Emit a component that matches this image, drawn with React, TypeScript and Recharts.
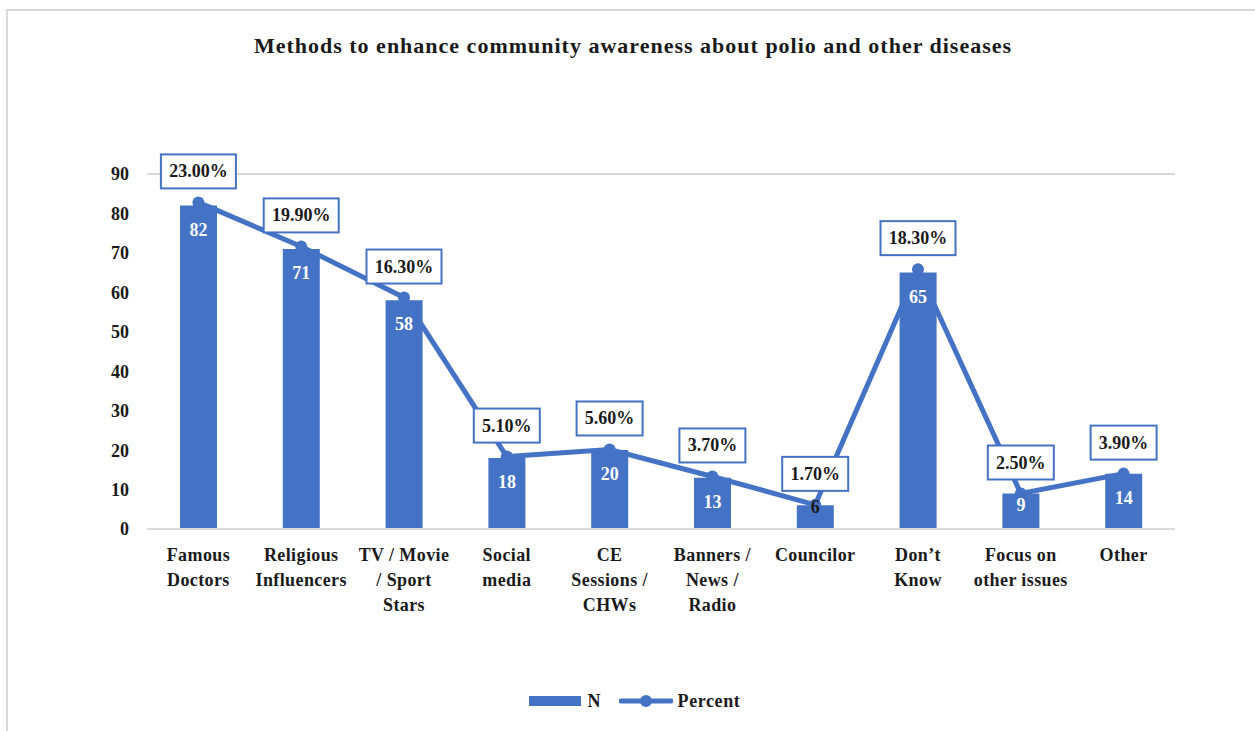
import React from "react"
import {
  Bar,
  CartesianGrid,
  ComposedChart,
  LabelList,
  Legend,
  Line,
  XAxis,
  YAxis,
} from "recharts"

const categories = [
  "Famous\nDoctors",
  "Religious\nInfluencers",
  "TV / Movie\n/ Sport\nStars",
  "Social\nmedia",
  "CE\nSessions /\nCHWs",
  "Banners /\nNews /\nRadio",
  "Councilor",
  "Don’t\nKnow",
  "Focus on\nother issues",
  "Other",
]
const nValues = [82, 71, 58, 18, 20, 13, 6, 65, 9, 14]
const percentValues = [23.0, 19.9, 16.3, 5.1, 5.6, 3.7, 1.7, 18.3, 2.5, 3.9]
const yTicks = [0, 10, 20, 30, 40, 50, 60, 70, 80, 90]

const BLUE = "#4472C4"
const GRID = "#d9d9d9"
const FONT = "'Liberation Serif', 'Times New Roman', serif"

const data = categories.map((name, i) => ({
  name,
  N: nValues[i],
  Percent: percentValues[i],
}))

const CategoryTick = (props: any) => {
  const { x, y, payload } = props
  const lines = String(payload.value).split("\n")
  return (
    <text
      x={x}
      y={y}
      textAnchor="middle"
      fontFamily={FONT}
      fontWeight="bold"
      fontSize={18}
      letterSpacing={0.4}
      fill="#1a1a1a"
    >
      {lines.map((line, i) => (
        <tspan key={i} x={x} dy={i === 0 ? 24 : 25}>
          {line}
        </tspan>
      ))}
    </text>
  )
}

const BarValueLabel = (props: any) => {
  const { x, y, width, height, value } = props
  const bottom = y + height
  const cy = Math.min(y + 24, bottom - 24)
  const small = height < 30
  return (
    <text
      x={x + width / 2}
      y={small ? y + 2 : cy}
      textAnchor="middle"
      dominantBaseline="central"
      fontFamily={FONT}
      fontWeight="bold"
      fontSize={18}
      fill={small ? "#1a1a1a" : "#ffffff"}
    >
      {value}
    </text>
  )
}

const PercentLabel = (props: any) => {
  const { x, y, value } = props
  const text = `${Number(value).toFixed(2)}%`
  const w = text.length * 9 + 21
  const h = 34
  const cy = y - 31
  return (
    <g>
      <rect
        x={x - w / 2}
        y={cy - h / 2}
        width={w}
        height={h}
        fill="#ffffff"
        stroke={BLUE}
        strokeWidth={2}
      />
      <text
        x={x}
        y={cy}
        textAnchor="middle"
        dominantBaseline="central"
        fontFamily={FONT}
        fontWeight="bold"
        fontSize={18}
        fill="#1a1a1a"
      >
        {text}
      </text>
    </g>
  )
}

const LegendContent = () => (
  <div
    style={{
      display: "flex",
      justifyContent: "center",
      alignItems: "center",
      height: 24,
      paddingLeft: 14,
      fontFamily: FONT,
      fontWeight: "bold",
      fontSize: 18,
      color: "#1a1a1a",
    }}
  >
    <svg width={52} height={10} style={{ marginRight: 7 }}>
      <rect x={0} y={0} width={52} height={10} fill={BLUE} />
    </svg>
    <span style={{ marginRight: 18 }}>N</span>
    <svg width={54} height={14} style={{ marginRight: 5 }}>
      <line x1={2} y1={7} x2={52} y2={7} stroke={BLUE} strokeWidth={5} strokeLinecap="round" />
      <circle cx={27} cy={7} r={6} fill={BLUE} />
    </svg>
    <span style={{ letterSpacing: 0.6 }}>Percent</span>
  </div>
)

export default function App() {
  return (
    <div
      style={{
        position: "fixed",
        left: 0,
        top: 0,
        width: 1255,
        height: 731,
        background: "#ffffff",
        overflow: "hidden",
      }}
    >
      <div
        style={{
          position: "absolute",
          left: 6,
          top: 9,
          width: 1300,
          height: 800,
          borderTop: `2px solid ${GRID}`,
          borderLeft: `2px solid ${GRID}`,
        }}
      />
      <div
        style={{
          position: "absolute",
          left: 0,
          top: 33,
          width: 1266,
          textAlign: "center",
          fontFamily: FONT,
          fontWeight: "bold",
          fontSize: 22,
          letterSpacing: 1,
          color: "#1a1a1a",
        }}
      >
        Methods to enhance community awareness about polio and other diseases
      </div>
      <div style={{ position: "absolute", left: 0, top: 0 }}>
        <ComposedChart
          width={1255}
          height={731}
          data={data}
          margin={{ top: 174, right: 80, bottom: 78, left: 87 }}
          barSize={37}
        >
          <CartesianGrid vertical={false} stroke={GRID} strokeWidth={2} />
          <XAxis
            dataKey="name"
            interval={0}
            tickLine={false}
            axisLine={{ stroke: GRID, strokeWidth: 2 }}
            tick={<CategoryTick />}
            height={100}
          />
          <YAxis
            yAxisId="n"
            domain={[0, 90]}
            ticks={yTicks}
            interval={0}
            width={60}
            tickLine={false}
            axisLine={false}
            tickMargin={12}
            tick={{
              fontFamily: FONT,
              fontWeight: "bold",
              fontSize: 18,
              fill: "#1a1a1a",
            }}
          />
          <YAxis yAxisId="pct" orientation="right" domain={[0, 25]} hide />
          <Legend
            verticalAlign="bottom"
            content={<LegendContent />}
            wrapperStyle={{ top: 689, left: 0, width: 1255, height: 24 }}
          />
          <Bar yAxisId="n" dataKey="N" fill={BLUE} isAnimationActive={false}>
            <LabelList dataKey="N" content={<BarValueLabel />} />
          </Bar>
          <Line
            yAxisId="pct"
            dataKey="Percent"
            stroke={BLUE}
            strokeWidth={5}
            dot={{ r: 6, fill: BLUE, stroke: BLUE, strokeWidth: 0 }}
            activeDot={false}
            isAnimationActive={false}
          >
            <LabelList dataKey="Percent" content={<PercentLabel />} />
          </Line>
        </ComposedChart>
      </div>
    </div>
  )
}
